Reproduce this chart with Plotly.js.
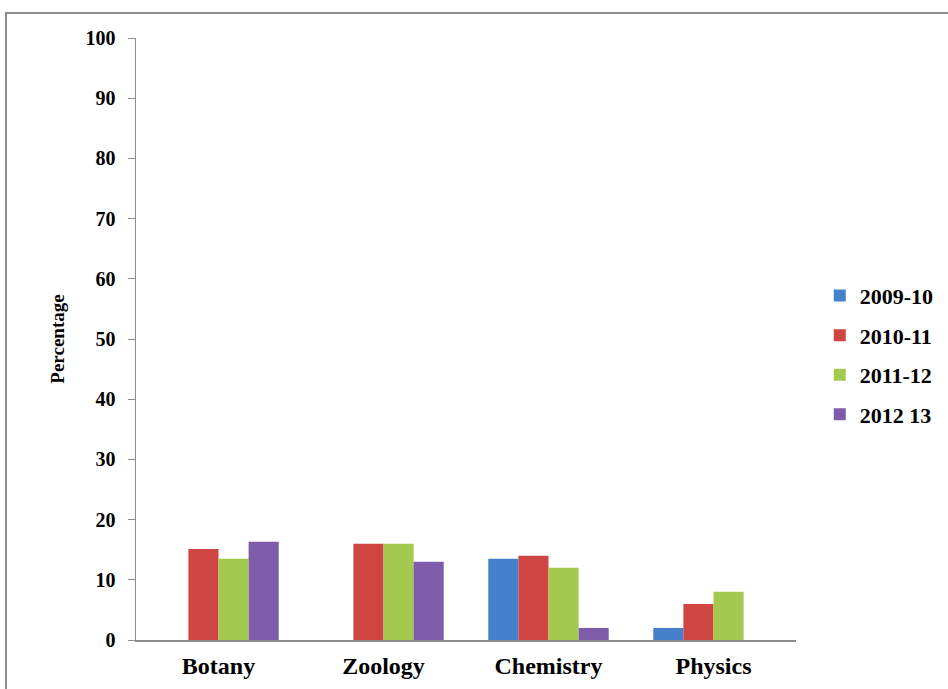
<!DOCTYPE html>
<html>
<head>
<meta charset="utf-8">
<script src="https://cdn.plot.ly/plotly-3.0.1.min.js"></script>
<style>
  html, body { margin: 0; padding: 0; background: #fff; overflow: hidden; }
  #wrap { position: relative; width: 948px; height: 689px; }
  #chart { position: absolute; left: 0; top: 0; width: 948px; height: 689px; }
  #frame { position: absolute; left: 5px; top: 12px; width: 1000px; height: 800px;
           border-left: 2px solid #8c8c8c; border-top: 2px solid #8c8c8c; pointer-events: none; }
</style>
</head>
<body>
<div id="wrap">
  <div id="chart"></div>
  <div id="frame"></div>
</div>
<script>
// Subjects on the category axis
const subjects = ['Botany', 'Zoology', 'Chemistry', 'Physics'];

// Academic years (one bar series each)
const years = ['2009-10', '2010-11', '2011-12', '2012 13'];

// Percentage per subject, one array per year (null = no bar)
const y2009_10 = [null, null, 13.5, 2];
const y2010_11 = [15.1, 16, 14, 6];
const y2011_12 = [13.5, 16, 12, 8];
const y2012_13 = [16.3, 13, 2, null];

const yTicks = [0, 10, 20, 30, 40, 50, 60, 70, 80, 90, 100];

const seriesValues = [y2009_10, y2010_11, y2011_12, y2012_13];
const colors = ['#4480CB', '#CF4541', '#A3C94F', '#7E5CA9'];

const serif = 'Liberation Serif';

const traces = seriesValues.map((vals, i) => ({
  type: 'bar',
  name: years[i],
  x: subjects,
  y: vals,
  marker: { color: colors[i], line: { width: 0 } },
  legendgroup: 'g' + i,
  hoverinfo: 'x+y+name'
}));

const layout = {
  width: 948,
  height: 689,
  margin: { l: 136, r: 152, t: 38, b: 49, pad: 0, autoexpand: false },
  paper_bgcolor: '#ffffff',
  plot_bgcolor: '#ffffff',
  font: { family: serif, color: '#000', weight: 'bold' },
  barmode: 'group',
  bargap: 0.27,
  bargroupgap: 0,
  showlegend: true,
  legend: {
    x: 1.036, xanchor: 'left',
    y: 0.473, yanchor: 'middle',
    font: { family: serif, size: 22, color: '#000', weight: 'bold' },
    tracegroupgap: 8,
    itemwidth: 30,
    bgcolor: 'rgba(0,0,0,0)'
  },
  xaxis: {
    type: 'category',
    showgrid: false,
    zeroline: false,
    showline: true,
    linecolor: '#8c8c8c',
    linewidth: 1.5,
    ticks: '',
    tickfont: { family: serif, size: 24, color: '#000', weight: 'bold' },
    ticklabelstandoff: 4
  },
  yaxis: {
    range: [0, 100],
    tickvals: yTicks,
    ticktext: yTicks.map(String),
    showgrid: false,
    zeroline: false,
    showline: true,
    linecolor: '#8c8c8c',
    linewidth: 1.5,
    ticks: 'outside',
    ticklen: 7,
    tickcolor: '#8c8c8c',
    tickwidth: 1,
    tickfont: { family: serif, size: 20, color: '#000', weight: 'bold' },
    ticklabelstandoff: 8,
    title: {
      text: 'Percentage',
      font: { family: serif, size: 19, color: '#000', weight: 'bold' },
      standoff: 16
    }
  }
};

Plotly.newPlot('chart', traces, layout, { displayModeBar: false, staticPlot: true });
</script>
</body>
</html>
